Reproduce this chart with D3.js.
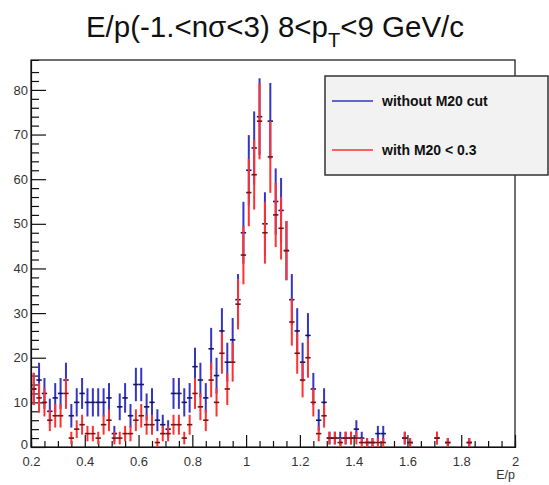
<!DOCTYPE html>
<html>
<head>
<meta charset="utf-8">
<script src="https://cdn.jsdelivr.net/npm/d3@7"></script>
<style>
  body { margin: 0; background: #fff; }
  svg { display: block; font-family: "Liberation Sans", Arial, Helvetica, sans-serif; }
</style>
</head>
<body>
<svg id="chart" width="549" height="485"></svg>
<script>
// E/p histograms, 0.02 wide bins starting at 0.2 (90 bins up to 2.0)
const binLow = 0.2;
const binWidth = 0.02;

// without M20 cut
const countsAll = [
  13, 15, 12, 8, 11, 12, 15, 7, 10, 12,
  10, 10, 10, 10, 11, 3, 9, 11, 7, 14,
  14, 9, 10, 6, 5, 4, 12, 12, 10, 11,
  18, 15, 11, 22, 16, 26, 19, 24, 33, 48,
  62, 67, 74, 50, 73, 55, 53, 44, 33, 26,
  19, 25, 13, 6, 10, 2, 2, 2, 2, 2,
  4, 2, 1, 1, 3, 3, 0, 0, 0, 2,
  1, 0, 0, 0, 0, 2, 0, 1, 0, 0,
  0, 1, 0, 0, 0, 0, 0, 0, 0, 0
];

// with M20 < 0.3
const countsCut = [
  13, 11, 10, 6, 7, 7, 12, 2, 4, 5,
  3, 3, 2, 5, 6, 2, 2, 3, 3, 6,
  7, 5, 5, 1, 3, 3, 5, 5, 2, 5,
  12, 9, 6, 15, 10, 21, 13, 19, 32, 43,
  57, 61, 73, 48, 65, 52, 49, 44, 28, 21,
  15, 20, 10, 3, 7, 2, 2, 1, 2, 2,
  2, 1, 1, 1, 1, 1, 0, 0, 0, 2,
  1, 0, 0, 0, 0, 2, 0, 1, 0, 0,
  0, 1, 0, 0, 0, 0, 0, 0, 0, 0
];

const xTicks = [0.2, 0.4, 0.6, 0.8, 1, 1.2, 1.4, 1.6, 1.8, 2];
const yTicks = [0, 10, 20, 30, 40, 50, 60, 70, 80];
const legendLabels = ["without M20 cut", "with M20 < 0.3"];

const svg = d3.select("#chart");

let x = d3.scaleLinear().domain([0.2, 2]).range([31, 515]);
let y = d3.scaleLinear().domain([0, 86.7]).range([447, 60]);

function isMajor(d) {
    return xTicks.some(t => Math.abs(t - d) < 1e-6);
}

// frame
svg.append("rect")
    .attr("x", 31).attr("y", 60)
    .attr("width", 484).attr("height", 387)
    .attr("fill", "none")
    .attr("stroke", "#111")
    .attr("stroke-width", 1.2);

// x axis, ticks pointing up into the frame
let xAxis = d3.axisBottom(x)
    .tickValues(d3.range(0.2, 2.001, 0.05))
    .tickSize(-6)
    .tickFormat(d => isMajor(d) ? d3.format("")(+d.toFixed(1)) : "");

let gx = svg.append("g").attr("transform", "translate(0,447)").call(xAxis);
gx.select(".domain").attr("stroke", "#111").attr("stroke-width", 1.2);
gx.selectAll(".tick line")
    .attr("stroke", "#111").attr("stroke-width", 1.2)
    .attr("y2", d => isMajor(d) ? -12 : -6);
gx.selectAll(".tick text")
    .attr("y", 10).attr("dy", "0.71em")
    .attr("font-size", 13).attr("fill", "#333")
    .attr("font-family", "Liberation Sans, Arial, sans-serif");

// y axis, ticks pointing right
let yAxis = d3.axisLeft(y)
    .tickValues(d3.range(0, 86, 2))
    .tickSize(-8)
    .tickFormat(d => yTicks.includes(d) ? d : "");

let gy = svg.append("g").attr("transform", "translate(31,0)").call(yAxis);
gy.select(".domain").attr("stroke", "#111").attr("stroke-width", 1.2);
gy.selectAll(".tick line")
    .attr("stroke", "#111").attr("stroke-width", 1.2)
    .attr("x2", d => yTicks.includes(d) ? 15 : 8);
gy.selectAll(".tick text")
    .attr("x", -3)
    .attr("font-size", 13).attr("fill", "#333")
    .attr("font-family", "Liberation Sans, Arial, sans-serif");
// the zero label sits a bit higher so it clears the x labels
gy.selectAll(".tick text").filter(d => d === 0).attr("dy", "0.1em");

svg.append("text")
    .attr("x", 515).attr("y", 479)
    .attr("text-anchor", "end")
    .attr("font-size", 12.5).attr("fill", "#333")
    .text("E/p");

// error-bar histogram
function drawHist(counts, vColor, hColor) {
    let bins = counts.map((c, i) => ({
        lo: binLow + i * binWidth,
        hi: binLow + (i + 1) * binWidth,
        c: c
    })).filter(d => d.c > 0);

    let g = svg.append("g");
    g.selectAll("line.v")
        .data(bins)
        .enter().append("line")
        .attr("x1", d => x((d.lo + d.hi) / 2))
        .attr("x2", d => x((d.lo + d.hi) / 2))
        .attr("y1", d => y(d.c - Math.sqrt(d.c)))
        .attr("y2", d => y(d.c + Math.sqrt(d.c)))
        .attr("stroke", vColor)
        .attr("stroke-width", 2);

    g.selectAll("line.h")
        .data(bins)
        .enter().append("line")
        .attr("x1", d => x(d.lo))
        .attr("x2", d => x(d.hi))
        .attr("y1", d => y(d.c))
        .attr("y2", d => y(d.c))
        .attr("stroke", hColor)
        .attr("stroke-width", 1.6);
}

drawHist(countsAll, "#3535c4", "#14146e");
drawHist(countsCut, "#ff3030", "#7a1212");

// title
let title = svg.append("text")
    .attr("x", 275).attr("y", 37)
    .attr("text-anchor", "middle")
    .attr("font-size", 29.5)
    .attr("fill", "#111");
title.append("tspan").text("E/p(-1.<nσ<3) 8<p");
title.append("tspan").attr("font-size", 20).attr("dy", 10).text("T");
title.append("tspan").attr("dy", -10).text("<9 GeV/c");

// legend
let leg = svg.append("g");
leg.append("rect")
    .attr("x", 325).attr("y", 76)
    .attr("width", 223).attr("height", 99)
    .attr("fill", "#f2f2f2")
    .attr("stroke", "#333")
    .attr("stroke-width", 1.5);

let legColors = ["#3535c4", "#ff3030"];
legendLabels.forEach(function(label, i) {
    let ly = 101 + i * 49;
    leg.append("line")
        .attr("x1", 332).attr("x2", 373)
        .attr("y1", ly).attr("y2", ly)
        .attr("stroke", legColors[i]).attr("stroke-width", 1.5);
    leg.append("text")
        .attr("x", 382).attr("y", ly + 5)
        .attr("font-size", 14).attr("font-weight", "bold")
        .attr("fill", "#111")
        .text(label);
});
</script>
</body>
</html>
